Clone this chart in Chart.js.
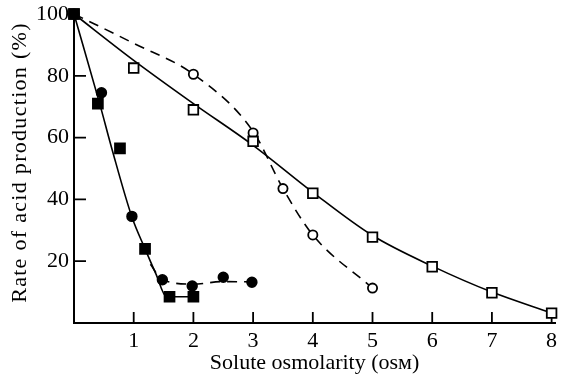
<!DOCTYPE html>
<html><head><meta charset="utf-8">
<script src="https://cdn.jsdelivr.net/npm/chart.js@4"></script>
<style>html,body{margin:0;padding:0;background:#fff}</style>
</head><body>
<canvas id="c" width="564" height="376"></canvas>
<script>
const xTicks = [1, 2, 3, 4, 5, 6, 7, 8];
const yTicks = [20, 40, 60, 80, 100];
// open squares
const openSqX = [0, 1, 2, 3, 4, 5, 6, 7, 8];
const openSqY = [100, 82.5, 69, 58.8, 42, 27.8, 18.2, 9.8, 3.2];
// fitted solid curve for open squares
const openSqCurveY = [100, 85, 71, 57.5, 42.3, 28.3, 18.4, 10, 3.2];
// open circles
const openCircX = [0, 2, 3, 3.5, 4, 5];
const openCircY = [100, 80.5, 61.5, 43.5, 28.5, 11.3];
// fitted dashed curve for open circles
const openCircCurveX = [0, 1, 2, 3, 3.5, 4, 5];
const openCircCurveY = [100, 90.5, 80.5, 62, 43.5, 28.5, 11.3];
// filled squares
const filledSqX = [0, 0.4, 0.77, 1.19, 1.6, 2];
const filledSqY = [100, 71, 56.5, 24, 8.5, 8.5];
// filled circles
const filledCircX = [0.46, 0.97, 1.48, 1.98, 2.5, 2.98];
const filledCircY = [74.5, 34.5, 14, 12, 14.8, 13.2];
// fitted solid curve through filled symbols
const steepCurveX = [0, 0.43, 0.64, 0.97, 1.19, 1.37, 1.55, 2];
const steepCurveY = [100, 71, 56, 34.3, 24, 16, 8.5, 8.5];
// dashed curve through filled circles
const flatDashX = [1.28, 1.48, 2, 2.5, 3];
const flatDashY = [19, 14, 12.6, 13.4, 13.3];

const pts = (xs, ys) => xs.map((x, i) => ({x, y: ys[i]}));
const FONT = {family: "'Liberation Serif', 'Times New Roman', serif", size: 22};

const inwardTicks = {
  id: 'inwardTicks',
  beforeDatasetsDraw(chart) {
    const {ctx, scales: {x, y}, chartArea: a} = chart;
    ctx.save();
    ctx.strokeStyle = '#000';
    ctx.lineWidth = 1.8;
    ctx.beginPath();
    xTicks.forEach(v => { const px = x.getPixelForValue(v); ctx.moveTo(px, a.bottom); ctx.lineTo(px, a.bottom - 11); });
    yTicks.filter(v => v < 100).forEach(v => { const py = y.getPixelForValue(v); ctx.moveTo(a.left, py); ctx.lineTo(a.left + 12, py); });
    ctx.stroke();
    ctx.restore();
  }
};

const line = (xs, ys, dash, order) => ({
  data: pts(xs, ys), showLine: true, pointRadius: 0, borderColor: '#000', borderWidth: 1.6,
  borderDash: dash, cubicInterpolationMode: 'monotone', clip: false, order
});
const marks = (xs, ys, style, r, fill, order) => ({
  data: pts(xs, ys), showLine: false, pointStyle: style, pointRadius: r, pointHoverRadius: r,
  backgroundColor: fill, borderColor: '#000', pointBorderWidth: 1.8, clip: false, order
});

function spaceTitle(s, sp, dy) {
  if (s._spaced) return;
  const orig = s.drawTitle.bind(s);
  s.drawTitle = function () { const c = this.ctx; c.save(); c.translate(0, dy); c.letterSpacing = sp; orig(); c.restore(); };
  s._spaced = true;
}

new Chart(document.getElementById('c'), {
  type: 'scatter',
  data: {
    datasets: [
      line(openSqX, openSqCurveY, [], 10),
      line(openCircCurveX, openCircCurveY, [10, 7], 10),
      line(steepCurveX, steepCurveY, [], 10),
      line(flatDashX, flatDashY, [10, 7], 10),
      marks(openSqX, openSqY, 'rect', 6.8, '#fff', 2),
      marks(openCircX, openCircY, 'circle', 4.6, '#fff', 2),
      marks(filledCircX, filledCircY, 'circle', 4.8, '#000', 1),
      marks(filledSqX, filledSqY, 'rect', 7, '#000', 0)
    ]
  },
  options: {
    responsive: false, animation: false, devicePixelRatio: 1,
    layout: {padding: {top: 14, right: 2, left: 0, bottom: 0}},
    plugins: {legend: {display: false}, tooltip: {enabled: false}},
    scales: {
      x: {
        type: 'linear', min: 0, max: 8.06,
        afterBuildTicks: s => { s.ticks = xTicks.map(v => ({value: v})); },
        afterFit: s => { s.height = 53; s.paddingLeft = 0; s.paddingRight = 0; },
        grid: {drawOnChartArea: false, drawTicks: false},
        border: {display: true, color: '#000', width: 2},
        ticks: {color: '#000', font: FONT, padding: 5, maxRotation: 0},
        title: {display: true, text: 'Solute osmolarity (osᴍ)', color: '#000', font: FONT, padding: {top: 0, bottom: 0}}
      },
      y: {
        type: 'linear', min: 0, max: 100,
        afterBuildTicks: s => { s.ticks = yTicks.map(v => ({value: v})); },
        afterFit: s => { s.width = 74; s.paddingTop = 0; s.paddingBottom = 0; spaceTitle(s, '1.3px', -6); },
        grid: {drawOnChartArea: false, drawTicks: false},
        border: {display: true, color: '#000', width: 2},
        ticks: {color: '#000', font: FONT, padding: 5},
        title: {display: true, text: 'Rate of acid production (%)', color: '#000', font: FONT, padding: {top: 7, bottom: 0}}
      }
    }
  },
  plugins: [inwardTicks]
});
</script>
</body></html>
